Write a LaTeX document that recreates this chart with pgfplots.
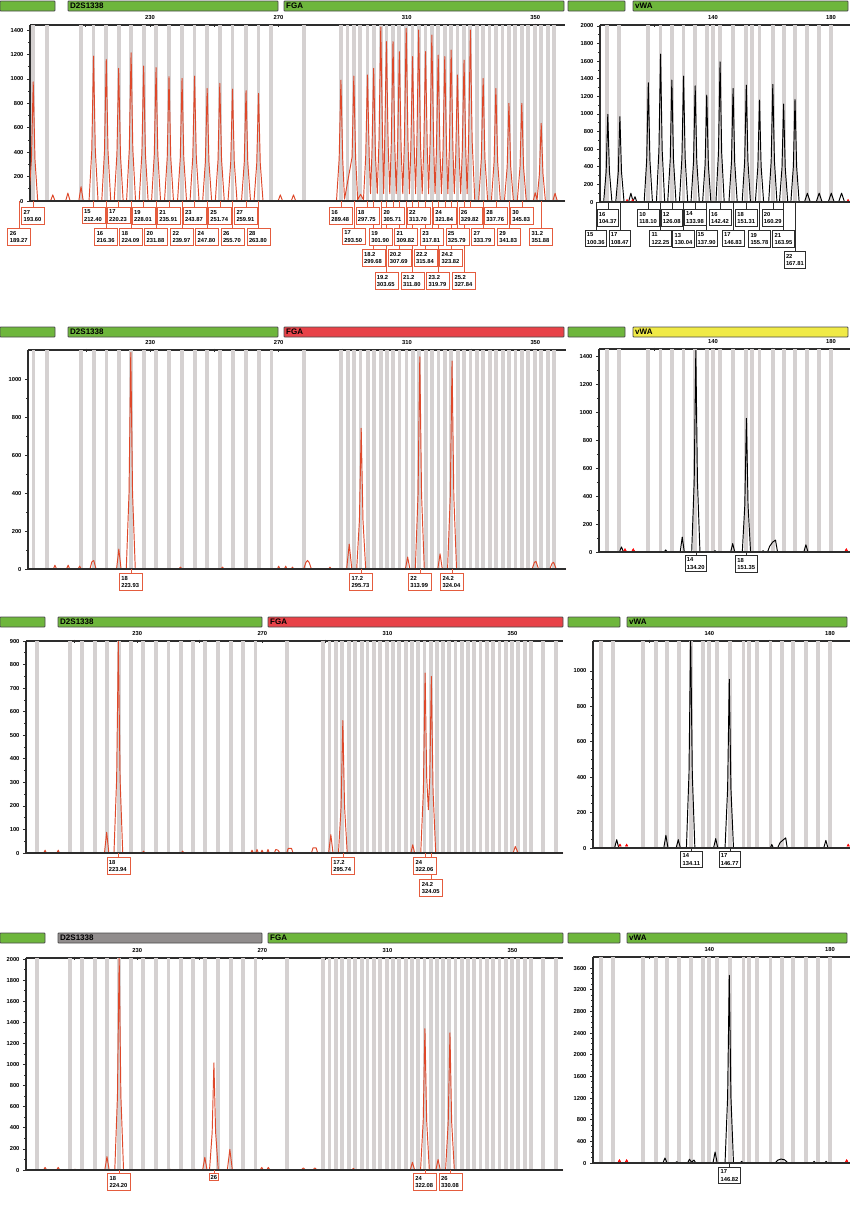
\documentclass[border=0pt]{standalone}
\usepackage{fontspec}
\setmainfont{Liberation Sans}
\usepackage{pgfplots}
\pgfplotsset{compat=1.18}
\definecolor{bingray}{RGB}{213,209,209}
\definecolor{trred}{RGB}{222,72,42}
\definecolor{boxred}{RGB}{228,92,62}
\definecolor{boxblk}{RGB}{45,45,45}
\definecolor{hgreen}{RGB}{110,182,60}
\definecolor{hred}{RGB}{232,66,72}
\definecolor{hyellow}{RGB}{240,234,70}
\definecolor{hgray}{RGB}{145,141,141}
\definecolor{hedge}{RGB}{75,75,75}
\definecolor{axgray}{RGB}{45,45,45}
\tikzset{
  lbl/.style={fill=white, text=black, line width=0.7pt, font=\fontsize{5.8}{7.2}\selectfont\bfseries, align=left, text width=19pt, inner xsep=2pt, inner ysep=2.6pt, anchor=north},
  lblv/.style={lbl, text width=18pt, inner xsep=1.8pt},
  lblone/.style={fill=white, text=black, line width=0.7pt, font=\fontsize{5.8}{7}\selectfont\bfseries, inner sep=1.6pt, anchor=north},
}
\newcommand{\lab}[5]{\draw[#3,line width=0.5pt] (axis cs:#1,0) -- ++(0pt,-#2pt) node[lbl,draw=#3]{#4\\#5};}
\newcommand{\labv}[5]{\draw[#3,line width=0.5pt] (axis cs:#1,0) -- ++(0pt,-#2pt) node[lblv,draw=#3]{#4\\#5};}
\newcommand{\hdrbar}[5]{\filldraw[fill=#5, draw=hedge, line width=0.9pt, rounded corners=0.8pt] (#1pt,-#3pt) rectangle (#2pt,-#4pt);}
\newcommand{\hdrtxt}[3]{\node[anchor=west, inner sep=0pt, font=\fontsize{8}{9}\selectfont\bfseries] at (#1pt,-#2pt) {#3};}
\newcommand{\baseln}{\draw[draw=axgray, line width=1.1pt] (rel axis cs:0,0) -- (rel axis cs:1,0);}
\pgfplotsset{
  ep/.style={
    scale only axis, clip mode=individual,
    axis x line*=top, axis y line*=left,
    axis line style={line width=1.1pt, draw=axgray, -},
    ymin=0,
    tick style={line width=0.7pt, draw=axgray},
    major tick length=3pt, minor tick length=1.8pt,
    xtick align=center, ytick align=outside,
    tick label style={font=\fontsize{5.8}{6.5}\selectfont\bfseries},
    /pgf/number format/assume math mode=true,
    /pgf/number format/1000 sep={},
    scaled y ticks=false,
    minor x tick num=0, minor y tick num=1,
    extra x tick style={grid=major, major grid style={line width=3.8pt, draw=bingray}, major tick length=0pt},
    extra x tick labels={},
    anchor=north west,
  },
  epL/.style={ep, xtick={210,230,...,350}, xticklabels={,230,,270,,310,,350},
    extra x ticks={193.6,197.8,208.5,212.4,216.36,220.23,224.09,228.01,231.88,235.91,239.97,243.87,247.8,251.74,255.7,259.91,263.8,267.8,277.9,289.48,291.5,293.5,295.5,297.75,299.68,301.9,303.65,305.71,307.69,309.82,311.8,313.7,315.84,317.81,319.79,321.84,323.82,325.79,327.84,329.82,331.8,333.79,335.8,337.76,339.8,341.83,343.8,345.83,347.8,349.85,351.88,353.9,355.9,359.8,363.9}},
  epR/.style={ep, xtick={120,140,160,180}, xticklabels={,140,,180},
    extra x ticks={104.0,108.2,118.1,122.25,126.08,130.04,133.98,137.9,139.9,142.42,146.83,151.31,153.2,155.78,160.29,163.95,167.81,172.0,176.0,180.1}},
  trace/.style={draw=trred, line width=0.95pt, line join=round, mark=none, forget plot},
  btrace/.style={draw=black, line width=0.95pt, line join=round, mark=none, forget plot},
  redm/.style={only marks, mark=triangle*, mark size=1.4pt, color=red, forget plot},
}
\begin{document}
\begin{tikzpicture}
\useasboundingbox (0pt,0pt) rectangle (850pt,-1211pt);
% ---------- headers ----------
\hdrbar{0}{55}{1}{11}{hgreen}\hdrbar{68}{278}{1}{11}{hgreen}\hdrtxt{70}{6}{D2S1338}
\hdrbar{284}{564}{1}{11}{hgreen}\hdrtxt{286}{6}{FGA}
\hdrbar{568}{625}{1}{11}{hgreen}\hdrbar{633}{848}{1}{11}{hgreen}\hdrtxt{635}{6}{vWA}
\hdrbar{0}{55}{327}{337}{hgreen}\hdrbar{68}{278}{327}{337}{hgreen}\hdrtxt{70}{332}{D2S1338}
\hdrbar{284}{564}{327}{337}{hred}\hdrtxt{286}{332}{FGA}
\hdrbar{568}{625}{327}{337}{hgreen}\hdrbar{633}{848}{327}{337}{hyellow}\hdrtxt{635}{332}{vWA}
\hdrbar{0}{45}{617}{627}{hgreen}\hdrbar{58}{262}{617}{627}{hgreen}\hdrtxt{60}{622}{D2S1338}
\hdrbar{268}{563}{617}{627}{hred}\hdrtxt{270}{622}{FGA}
\hdrbar{568}{620}{617}{627}{hgreen}\hdrbar{627}{847}{617}{627}{hgreen}\hdrtxt{629}{622}{vWA}
\hdrbar{0}{45}{933}{943}{hgreen}\hdrbar{58}{262}{933}{943}{hgray}\hdrtxt{60}{938}{D2S1338}
\hdrbar{268}{563}{933}{943}{hgreen}\hdrtxt{270}{938}{FGA}
\hdrbar{568}{620}{933}{943}{hgreen}\hdrbar{627}{847}{933}{943}{hgreen}\hdrtxt{629}{938}{vWA}

% ================= ROW 1 LEFT =================
\begin{axis}[epL, at={(30pt,-25pt)}, width=535pt, height=176pt, xmin=192.6, xmax=359.3, ymax=1441, ytick={0,200,...,1400}]
\addplot[trace] coordinates {(191.0,0)(192.2,0)(193.05,340)(193.6,975)(194.15,340)(195.0,0)
(199.0,0)(199.7,50)(200.4,0)(203.7,0)(204.4,65)(205.1,0)(207.8,0)(208.5,117)(209.2,0)
(211.0,0)(211.85,415)(212.4,1187)(212.95,415)(213.8,0)
(214.96,0)(215.81,406)(216.36,1160)(216.91,406)(217.76,0)
(218.83,0)(219.68,380)(220.23,1086)(220.78,380)(221.63,0)
(222.69,0)(223.54,425)(224.09,1214)(224.64,425)(225.49,0)
(226.61,0)(227.46,387)(228.01,1105)(228.56,387)(229.41,0)
(230.48,0)(231.33,382)(231.88,1092)(232.43,382)(233.28,0)
(234.51,0)(235.36,356)(235.91,1018)(236.46,356)(237.31,0)
(238.57,0)(239.42,351)(239.97,1004)(240.52,351)(241.37,0)
(242.47,0)(243.32,358)(243.87,1023)(244.42,358)(245.27,0)
(246.4,0)(247.25,323)(247.8,922)(248.35,323)(249.2,0)
(250.34,0)(251.19,337)(251.74,963)(252.29,337)(253.14,0)
(254.3,0)(255.15,321)(255.7,917)(256.25,321)(257.1,0)
(258.51,0)(259.36,316)(259.91,903)(260.46,316)(261.31,0)
(262.4,0)(263.25,308)(263.8,881)(264.35,308)(265.2,0)
(269.9,0)(270.6,50)(271.3,0)(274.0,0)(274.7,50)(275.4,0)
(288.1,0)(288.93,346)(289.48,990)(290.03,346)(290.6,15)
(292.95,358)(293.5,1023)(294.05,358)(294.7,10)(295.6,55)(296.5,10)
(297.2,361)(297.75,1032)(298.3,361)(298.7,60)
(299.13,380)(299.68,1086)(300.23,380)(300.8,60)
(301.35,499)(301.9,1425)(302.45,499)(302.8,60)
(303.1,457)(303.65,1305)(304.2,457)(304.7,60)
(305.16,457)(305.71,1305)(306.26,457)(306.7,60)
(307.14,428)(307.69,1223)(308.24,428)(308.75,60)
(309.27,495)(309.82,1414)(310.37,495)(310.8,60)
(311.25,414)(311.8,1182)(312.35,414)(312.75,60)
(313.15,490)(313.7,1400)(314.25,490)(314.8,60)
(315.29,428)(315.84,1223)(316.39,428)(316.8,60)
(317.26,476)(317.81,1359)(318.36,476)(318.8,60)
(319.24,418)(319.79,1195)(320.34,418)(320.8,60)
(321.29,414)(321.84,1182)(322.39,414)(322.8,60)
(323.27,433)(323.82,1236)(324.37,433)(324.8,60)
(325.24,361)(325.79,1032)(326.34,361)(326.8,60)
(327.29,404)(327.84,1154)(328.39,404)(328.8,60)
(329.27,490)(329.82,1400)(330.37,490)(331.2,0)
(332.4,0)(333.24,351)(333.79,1004)(334.34,351)(335.2,0)
(336.36,0)(337.21,323)(337.76,922)(338.31,323)(339.16,0)
(340.43,0)(341.28,280)(341.83,800)(342.38,280)(343.23,0)
(344.43,0)(345.28,280)(345.83,800)(346.38,280)(347.23,0)
(349.4,0)(350.0,68)(350.6,10)(351.33,223)(351.88,636)(352.43,223)(353.2,0)
(355.5,0)(356.2,63)(356.9,0)(360,0)};
\baseln
\lab{303.65}{71}{boxred}{19.2}{303.65}\lab{311.80}{71}{boxred}{21.2}{311.80}\lab{319.79}{71}{boxred}{23.2}{319.79}\lab{327.84}{71}{boxred}{25.2}{327.84}
\lab{299.68}{48}{boxred}{18.2}{299.68}\lab{307.69}{48}{boxred}{20.2}{307.69}\lab{315.84}{48}{boxred}{22.2}{315.84}\lab{323.82}{48}{boxred}{24.2}{323.82}
\lab{189.27}{27}{boxred}{26}{189.27}\lab{216.36}{27}{boxred}{16}{216.36}\lab{224.09}{27}{boxred}{18}{224.09}\lab{231.88}{27}{boxred}{20}{231.88}
\lab{239.97}{27}{boxred}{22}{239.97}\lab{247.80}{27}{boxred}{24}{247.80}\lab{255.70}{27}{boxred}{26}{255.70}\lab{263.80}{27}{boxred}{28}{263.80}
\lab{293.50}{27}{boxred}{17}{293.50}\lab{301.90}{27}{boxred}{19}{301.90}\lab{309.82}{27}{boxred}{21}{309.82}\lab{317.81}{27}{boxred}{23}{317.81}
\lab{325.79}{27}{boxred}{25}{325.79}\lab{333.79}{27}{boxred}{27}{333.79}\lab{341.83}{27}{boxred}{29}{341.83}\lab{351.88}{27}{boxred}{31.2}{351.88}
\lab{193.60}{6}{boxred}{27}{193.60}\lab{212.40}{6}{boxred}{15}{212.40}\lab{220.23}{6}{boxred}{17}{220.23}\lab{228.01}{6}{boxred}{19}{228.01}
\lab{235.91}{6}{boxred}{21}{235.91}\lab{243.87}{6}{boxred}{23}{243.87}\lab{251.74}{6}{boxred}{25}{251.74}\lab{259.91}{6}{boxred}{27}{259.91}
\lab{289.48}{6}{boxred}{16}{289.48}\lab{297.75}{6}{boxred}{18}{297.75}\lab{305.71}{6}{boxred}{20}{305.71}\lab{313.70}{6}{boxred}{22}{313.70}
\lab{321.84}{6}{boxred}{24}{321.84}\lab{329.82}{6}{boxred}{26}{329.82}\lab{337.76}{6}{boxred}{28}{337.76}\lab{345.83}{6}{boxred}{30}{345.83}
\end{axis}

% ================= ROW 1 RIGHT =================
\begin{axis}[epR, at={(600pt,-25pt)}, width=250pt, height=177pt, xmin=101.73, xmax=186.45, ymax=2011, ytick={0,200,...,2000}]
\addplot[btrace] coordinates {(99.0,0)(99.81,350)(100.36,1000)(100.91,350)(101.76,0)
(102.97,0)(103.82,349)(104.37,996)(104.92,349)(105.77,0)
(107.07,0)(107.92,340)(108.47,970)(109.02,340)(109.87,0)
(111.4,0)(112.2,100)(112.9,10)(113.6,60)(114.2,0)
(116.7,0)(117.55,474)(118.1,1355)(118.65,474)(119.5,0)
(120.85,0)(121.7,588)(122.25,1680)(122.8,588)(123.65,0)
(124.68,0)(125.53,485)(126.08,1385)(126.63,485)(127.48,0)
(128.64,0)(129.49,500)(130.04,1430)(130.59,500)(131.44,0)
(132.58,0)(133.43,462)(133.98,1320)(134.53,462)(135.38,0)
(136.5,0)(137.35,425)(137.9,1215)(138.45,425)(139.3,0)
(141.02,0)(141.87,557)(142.42,1592)(142.97,557)(143.82,0)
(145.43,0)(146.28,452)(146.83,1290)(147.38,452)(148.23,0)
(149.91,0)(150.76,465)(151.31,1328)(151.86,465)(152.71,0)
(154.38,0)(155.23,405)(155.78,1158)(156.33,405)(157.18,0)
(158.89,0)(159.74,468)(160.29,1336)(160.84,468)(161.69,0)
(162.55,0)(163.4,390)(163.95,1113)(164.5,390)(165.35,0)
(166.41,0)(167.26,408)(167.81,1166)(168.36,408)(169.21,0)
(171.0,0)(172.0,100)(173.0,0)(175.0,0)(176.0,100)(177.0,0)
(179.1,0)(180.1,100)(181.1,0)(182.6,0)(183.6,100)(184.6,0)(187,0)};
\addplot[redm] coordinates {(110.9,15)(112.8,15)(185.8,15)};
\baseln
\labv{167.81}{49}{boxblk}{22}{167.81}
\labv{100.36}{28}{boxblk}{15}{100.36}\labv{108.47}{28}{boxblk}{17}{108.47}\labv{122.25}{28}{boxblk}{11}{122.25}\labv{130.04}{28}{boxblk}{13}{130.04}
\labv{137.90}{28}{boxblk}{15}{137.90}\labv{146.83}{28}{boxblk}{17}{146.83}\labv{155.78}{28}{boxblk}{19}{155.78}\labv{163.95}{28}{boxblk}{21}{163.95}
\labv{104.37}{7}{boxblk}{16}{104.37}\labv{118.10}{7}{boxblk}{10}{118.10}\labv{126.08}{7}{boxblk}{12}{126.08}\labv{133.98}{7}{boxblk}{14}{133.98}
\labv{142.42}{7}{boxblk}{16}{142.42}\labv{151.31}{7}{boxblk}{18}{151.31}\labv{160.29}{7}{boxblk}{20}{160.29}
\end{axis}

% ================= ROW 2 LEFT =================
\begin{axis}[epL, at={(28pt,-350pt)}, width=538pt, height=219pt, xmin=191.9, xmax=359.55, ymax=1153, ytick={0,200,...,1000}]
\addplot[trace] coordinates {(191,0)(199.8,0)(200.3,20)(200.8,0)(203.9,0)(204.4,20)(204.9,0)(207.5,0)(208.0,15)(208.5,0)
(211.2,0)(211.8,38)(212.4,45)(213.1,0)
(219.5,0)(220.2,105)(220.9,0)
(222.53,0)(223.38,399)(223.93,1140)(224.48,399)(225.33,0)
(238.9,0)(239.4,10)(239.9,0)(252.0,0)(252.5,10)(253.0,0)
(269.6,0)(270.0,15)(270.4,0)(271.8,0)(272.2,15)(272.6,0)(273.9,0)(274.3,10)(274.7,0)
(277.8,0)(278.5,35)(279.0,45)(279.5,35)(280.2,0)
(285.6,0)(286.0,10)(286.4,0)
(291.2,0)(292.0,131)(292.8,0)
(294.33,0)(295.18,259)(295.73,741)(296.28,259)(297.13,0)
(309.5,0)(310.2,63)(310.9,0)
(312.59,0)(313.44,391)(313.99,1117)(314.54,391)(315.39,0)
(319.6,0)(320.3,80)(321.0,0)
(322.64,0)(323.49,383)(324.04,1095)(324.59,383)(325.44,0)
(349.0,0)(349.7,35)(350.2,40)(351.0,0)
(354.5,0)(355.2,30)(355.7,35)(356.5,0)(360,0)};
\baseln
\lab{223.93}{4}{boxred}{18}{223.93}\lab{295.73}{4}{boxred}{17.2}{295.73}\lab{313.99}{4}{boxred}{22}{313.99}\lab{324.04}{4}{boxred}{24.2}{324.04}
\end{axis}

% ================= ROW 2 RIGHT =================
\begin{axis}[epR, at={(599pt,-349pt)}, width=251pt, height=203pt, xmin=101.39, xmax=186.45, ymax=1450, ytick={0,200,...,1400}]
\addplot[btrace] coordinates {(101,0)(108.3,0)(109.0,36)(109.7,0)
(123.5,0)(124.0,15)(124.5,0)
(128.9,0)(129.6,107)(130.3,0)
(132.8,0)(133.65,504)(134.2,1440)(134.75,504)(135.6,0)
(140.2,0)(140.7,10)(141.2,0)
(146.0,0)(146.7,60)(147.4,0)
(149.95,0)(150.8,334)(151.35,955)(151.9,334)(152.75,0)
(156.5,0)(157.0,10)(157.5,0)
(158.5,0)(159.2,40)(160.2,70)(161.2,85)(161.9,0)
(170.8,0)(171.5,52)(172.2,0)(187,0)};
\addplot[redm] coordinates {(110.2,15)(113.0,15)(185.2,15)};
\baseln
\labv{134.20}{3}{boxblk}{14}{134.20}\labv{151.35}{3}{boxblk}{18}{151.35}
\end{axis}

% ================= ROW 3 LEFT =================
\begin{axis}[epL, at={(26pt,-641pt)}, width=537pt, height=212pt, xmin=194.4, xmax=366.16, ymax=900, ytick={0,100,...,900}]
\addplot[trace] coordinates {(194,0)(200.1,0)(200.5,12)(200.9,0)(204.3,0)(204.7,12)(205.1,0)
(219.5,0)(220.2,88)(220.9,0)
(222.54,0)(223.39,314)(223.94,898)(224.49,314)(225.34,0)
(231.6,0)(232.0,8)(232.4,0)(244.1,0)(244.5,8)(244.9,0)
(266.3,0)(266.7,12)(267.1,0)(267.9,0)(268.3,15)(268.7,0)(269.5,0)(269.9,12)(270.3,0)(271.4,0)(271.8,15)(272.2,0)
(273.8,0)(274.3,15)(275.0,12)(275.6,0)
(277.8,0)(278.3,20)(279.3,20)(279.8,0)
(285.7,0)(286.2,22)(287.2,22)(287.7,0)
(291.2,0)(291.9,78)(292.6,0)
(294.34,0)(295.19,197)(295.74,562)(296.29,197)(297.14,0)
(317.5,0)(318.1,35)(318.7,0)
(320.66,0)(321.51,267)(322.06,764)(322.56,320)(323.1,184)(323.55,320)(324.05,750)(324.6,262)(325.45,0)
(350.2,0)(350.9,28)(351.8,0)(367,0)};
\baseln
\lab{324.05}{26}{boxred}{24.2}{324.05}
\lab{223.94}{4}{boxred}{18}{223.94}\lab{295.74}{4}{boxred}{17.2}{295.74}\lab{322.06}{4}{boxred}{24}{322.06}
\end{axis}

% ================= ROW 3 RIGHT =================
\begin{axis}[epR, at={(593pt,-641pt)}, width=257pt, height=207pt, xmin=101.45, xmax=186.6, ymax=1169, ytick={0,200,...,1000}, minor y tick num=3]
\addplot[btrace] coordinates {(101,0)(108.6,0)(109.3,47)(110.0,0)
(124.9,0)(125.6,72)(126.3,0)
(129.0,0)(129.7,47)(130.4,0)
(132.4,0)(133.25,420)(133.8,1200)(134.35,420)(135.2,0)
(141.4,0)(142.1,53)(142.8,0)
(145.2,0)(146.05,334)(146.6,953)(147.15,334)(148.0,0)
(160.2,0)(160.7,20)(161.2,0)
(162.6,0)(163.4,30)(164.4,45)(165.3,57)(165.8,0)
(177.9,0)(178.6,43)(179.3,0)(187,0)};
\addplot[redm] coordinates {(110.4,15)(112.6,15)(186.0,15)};
\baseln
\labv{134.11}{3}{boxblk}{14}{134.11}\labv{146.77}{3}{boxblk}{17}{146.77}
\end{axis}

% ================= ROW 4 LEFT =================
\begin{axis}[epL, at={(26pt,-958pt)}, width=537pt, height=212pt, xmin=194.4, xmax=366.16, ymax=2010, ytick={0,200,...,2000}]
\addplot[trace] coordinates {(194,0)(200.0,0)(200.5,25)(201.0,0)(204.2,0)(204.7,25)(205.2,0)(209.7,0)(210.1,8)(210.5,0)
(219.6,0)(220.3,126)(221.0,0)
(222.8,0)(223.65,700)(224.2,2020)(224.75,700)(225.6,0)
(240.1,0)(240.5,8)(240.9,0)(248.1,0)(248.5,8)(248.9,0)
(250.9,0)(251.6,120)(252.3,0)
(253.1,0)(253.95,356)(254.5,1016)(255.05,356)(255.9,0)
(258.8,0)(259.6,196)(260.4,0)
(269.3,0)(269.8,25)(270.3,0)(271.4,0)(271.9,25)(272.4,0)
(282.4,0)(283.1,20)(283.8,0)(286.1,0)(286.8,20)(287.5,0)
(298.6,0)(299.1,15)(299.6,0)
(317.3,0)(318.0,73)(318.7,0)
(320.6,0)(321.45,469)(322.0,1340)(322.55,469)(323.4,0)
(325.5,0)(326.2,100)(326.9,0)
(328.6,0)(329.45,455)(330.0,1300)(330.55,455)(331.4,0)(367,0)};
\baseln
\lab{224.2}{3}{boxred}{18}{224.20}
\draw[boxred,line width=0.5pt] (axis cs:254.5,0) -- ++(0pt,-3pt) node[lblone,draw=boxred]{26};
\lab{322.0}{3}{boxred}{24}{322.08}\lab{330.2}{3}{boxred}{26}{330.08}
\end{axis}

% ================= ROW 4 RIGHT =================
\begin{axis}[epR, at={(593pt,-957pt)}, width=257pt, height=206pt, xmin=101.45, xmax=186.6, ymax=3803, ytick={0,400,...,3600}, minor y tick num=3]
\addplot[btrace] coordinates {(101,0)(124.6,0)(125.3,92)(126.0,0)
(128.7,0)(129.2,25)(129.7,0)
(132.8,0)(133.4,70)(134.1,15)(134.9,55)(135.5,0)
(141.2,0)(141.9,202)(142.6,0)
(145.2,0)(146.05,1213)(146.6,3466)(147.15,1213)(148.0,0)
(150.2,0)(150.7,30)(151.2,0)
(161.8,0)(162.6,50)(163.7,74)(164.9,60)(166.1,0)
(174.2,0)(174.7,30)(175.2,0)(178.2,0)(178.7,30)(179.2,0)(187,0)};
\addplot[redm] coordinates {(110.2,40)(112.6,40)(185.5,40)};
\baseln
\labv{146.7}{4}{boxblk}{17}{146.82}
\end{axis}
\end{tikzpicture}
\end{document}
